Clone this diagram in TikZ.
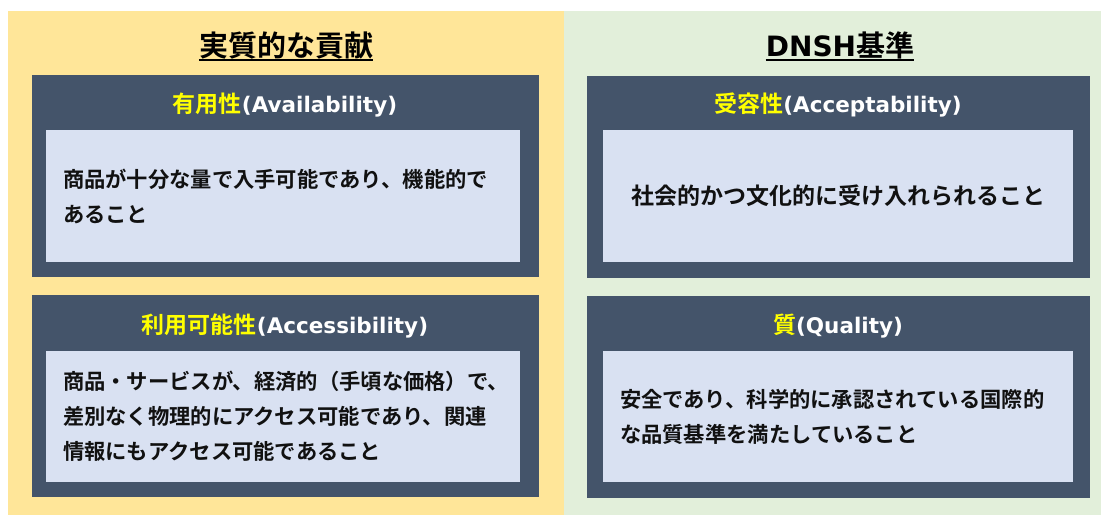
\documentclass[tikz,border=0pt]{standalone}
\usepackage{fontspec}
\newfontfamily\jpb{Noto Sans CJK JP Bold}
\newfontfamily\latb{DejaVu Sans Bold}
\definecolor{ylwpanel}{HTML}{FFE699}
\definecolor{grnpanel}{HTML}{E2EFDA}
\definecolor{darkcard}{HTML}{44546A}
\definecolor{lightcard}{HTML}{D9E1F2}
\definecolor{hiyellow}{HTML}{FFFF00}
\definecolor{bodytext}{HTML}{111111}
\tikzset{
  panel/.style={rectangle, draw=none, inner sep=0pt},
  card/.style={rectangle, fill=darkcard, draw=none, inner sep=0pt, minimum height=202pt},
  cardin/.style={rectangle, fill=lightcard, draw=none, inner xsep=17pt, inner ysep=0pt,
     minimum height=132pt, text=bodytext, font=\jpb\fontsize{21.3}{35}\selectfont},
  ttl/.style={inner sep=0pt, anchor=base, text=black, font=\jpb\fontsize{29}{34}\selectfont},
  hdr/.style={inner sep=0pt, anchor=base, text=white, font=\jpb\fontsize{23}{28}\selectfont},
}
\begin{document}
\begin{tikzpicture}[x=1pt,y=-1pt]
\useasboundingbox (0,0) rectangle (1101,515);
\fill[white] (0,0) rectangle (1101,515);
% panels
\node[panel, fill=ylwpanel, minimum width=556pt, minimum height=504pt] (pl) at (286,263) {};
\node[panel, fill=grnpanel, minimum width=537pt, minimum height=504pt] (pr) at (832.5,263) {};
% titles
\node[ttl] (tl) at (286,56.5) {実質的な貢献};
\node[ttl] (tr) at (840,56.5) {{\latb\fontsize{28}{34}\selectfont DNSH}基準};
\draw[line width=2pt] (tl.west |- 0,60) -- (tl.east |- 0,60);
\draw[line width=2pt] (tr.west |- 0,60) -- (tr.east |- 0,60);
% cards
\node[card, minimum width=507pt] (c1) at (285.5,176) {};
\node[card, minimum width=507pt] (c2) at (285.5,396) {};
\node[card, minimum width=503pt] (c3) at (838.5,176.5) {};
\node[card, minimum width=503pt] (c4) at (838.5,397) {};
% headers
\node[hdr] (h1) at (285,112) {{\color{hiyellow}有用性}{\latb\fontsize{21.5}{28}\selectfont(Availability)}};
\node[hdr] (h2) at (285,333) {{\color{hiyellow}利用可能性}{\latb\fontsize{21.5}{28}\selectfont(Accessibility)}};
\node[hdr] (h3) at (838,112) {{\color{hiyellow}受容性}{\latb\fontsize{21.5}{28}\selectfont(Acceptability)}};
\node[hdr] (h4) at (838,333) {{\color{hiyellow}質}{\latb\fontsize{21.5}{28}\selectfont(Quality)}};
% inner boxes with body text
\node[cardin, text width=440pt, align=left] (b1) at (283,196)
  {商品が十分な量で入手可能であり、機能的で\\あること};
\node[cardin, text width=440pt, align=left, minimum height=131pt] (b2) at (283,416.5)
  {商品・サービスが、経済的（手頃な価格）で、\\差別なく物理的にアクセス可能であり、関連\\情報にもアクセス可能であること};
\node[cardin, text width=436pt, align=center, font=\jpb\fontsize{23}{35}\selectfont] (b3) at (838,196)
  {社会的かつ文化的に受け入れられること};
\node[cardin, text width=436pt, align=left, minimum height=131pt] (b4) at (838,416.5)
  {安全であり、科学的に承認されている国際的\\な品質基準を満たしていること};
\end{tikzpicture}
\end{document}
